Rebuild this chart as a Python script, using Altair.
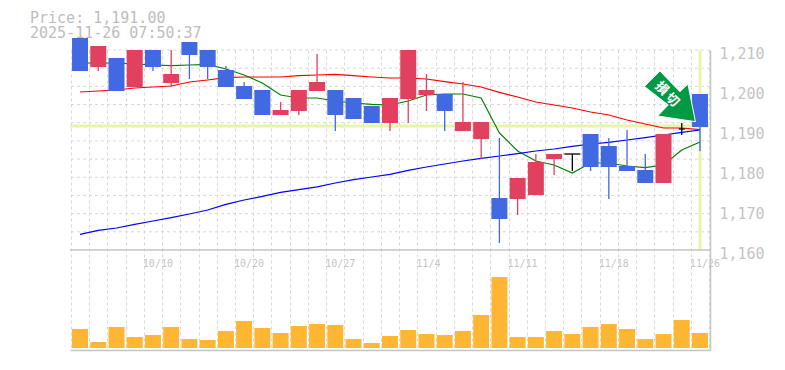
import altair as alt
import pandas as pd

# Candle values (open, close, high, low) in yen
opens = [1213, 1205.75, 1208, 1200.75, 1210, 1201.75, 1212, 1210, 1205, 1201, 1200, 1193.75, 1194.75, 1199.75, 1200, 1198, 1196, 1191.75, 1197.75, 1198.75, 1199, 1189.75, 1187.75, 1173, 1172.75, 1173.75, 1182.75, 1184, 1189, 1186, 1181, 1180, 1176.75, 1190.25, 1199]
closes = [1204.75, 1211, 1199.75, 1210, 1205.75, 1204, 1208.75, 1205.75, 1200.75, 1197.75, 1193.75, 1195, 1200, 1202, 1193.75, 1192.75, 1191.75, 1198, 1210, 1200, 1194.75, 1192, 1192, 1167.75, 1178, 1182, 1184, 1184, 1180.75, 1180.75, 1179.75, 1176.75, 1189, 1190.25, 1190.75]
highs = [1213, 1211, 1208, 1210, 1210, 1210, 1212, 1210, 1206, 1202, 1200, 1197, 1200, 1209, 1200, 1198, 1196, 1198, 1210, 1204, 1199, 1202, 1192, 1188, 1178, 1184, 1184, 1184, 1189, 1188, 1190, 1184, 1189, 1191.75, 1199]
lows = [1204.75, 1204.75, 1199.75, 1200.75, 1204.75, 1200.75, 1202.75, 1202.75, 1200.75, 1197.75, 1193.75, 1193.75, 1193.75, 1199.75, 1189.75, 1192.75, 1191.75, 1189.75, 1191.75, 1194.75, 1189.75, 1189.75, 1182.75, 1161.75, 1168.75, 1173.75, 1178.75, 1179.75, 1179.75, 1172.75, 1179.75, 1176.75, 1176.75, 1188.75, 1184.75]
volumes = [19, 6, 21, 11, 13, 21, 9, 8, 17, 27, 20, 15, 22, 24, 23, 9, 5, 12, 18, 14, 13, 17, 33, 71, 11, 11, 17, 14, 21, 24, 19, 9, 14, 28, 15]
ma_red = [1199.5, 1199.75, 1200, 1200.5, 1200.75, 1201, 1202, 1202.5, 1203.1, 1203.25, 1203.25, 1203.25, 1203.6, 1203.75, 1203.9, 1203.6, 1203.25, 1203, 1203, 1202.75, 1202.1, 1201.5, 1200.75, 1199.4, 1198.25, 1197, 1196.25, 1195.5, 1194.5, 1193.75, 1192.5, 1191.5, 1190.5, 1190.5, 1190.1]
ma_blue = [1163.9, 1164.9, 1165.5, 1166.4, 1167.25, 1168.1, 1169, 1170, 1171.4, 1172.5, 1173.4, 1174.4, 1175.1, 1175.8, 1176.75, 1177.6, 1178.25, 1178.9, 1179.9, 1180.75, 1181.5, 1182.25, 1182.9, 1183.5, 1184.1, 1184.75, 1185.25, 1185.9, 1186.5, 1186.9, 1187.5, 1188.1, 1188.75, 1189.4, 1190]
ma_green = [1206.75, 1206.75, 1206.75, 1206.5, 1206.25, 1206.1, 1206.25, 1206.4, 1205.25, 1203.75, 1201.75, 1198.75, 1198, 1198, 1197.25, 1196.75, 1196.4, 1196.25, 1197.25, 1198.75, 1199, 1199, 1198, 1189.25, 1184.75, 1182.25, 1181.25, 1179.25, 1181.75, 1181.75, 1181, 1180.6, 1181.25, 1185, 1187]
date_slots = [3.5, 8.5, 13.5, 18.5, 23.5, 28.5, 33.5]
date_labels = ["10/10", "10/20", "10/27", "11/4", "11/11", "11/18", "11/26"]
price_ticks = [1160, 1170, 1180, 1190, 1200, 1210]
grid_prices = [1164.55, 1169.09, 1173.64, 1178.18, 1182.73, 1187.27, 1191.82, 1196.36, 1200.91, 1205.45, 1210]
grid_slots = [i - 0.5 for i in range(36)]
current_price = 1191

RED, BLUE, BLACK = "#E2405F", "#4169E1", "#000000"
GREY = "#C4C4C4"
GRID = "#D8D8D8"
LIME = "#E6F5A9"
ORANGE = "#FFB733"
ARROW = "#009944"
MONO = "DejaVu Sans Mono"

n = len(opens)
df = pd.DataFrame({"i": range(n), "o": opens, "c": closes, "h": highs, "l": lows, "v": volumes,
                   "r": ma_red, "b": ma_blue, "g": ma_green})
df["top"] = df[["o", "c"]].max(axis=1)
df["bot"] = df[["o", "c"]].min(axis=1)
df["dir"] = ["up" if c > o else "down" if c < o else "flat" for o, c in zip(opens, closes)]

x_scale = alt.Scale(domain=[-0.55, 34.55], nice=False, zero=False, padding=0)
price_scale = alt.Scale(domain=[1135, 1210], nice=False, zero=False)
vol_scale = alt.Scale(domain=[-2, 298], nice=False, zero=False)
color = alt.Color("dir:N", legend=None,
                  scale=alt.Scale(domain=["up", "down", "flat"], range=[RED, BLUE, BLACK]))
x_axis = alt.Axis(values=grid_slots, grid=True, gridColor=GRID, gridDash=[3, 3], gridWidth=1,
                  labels=False, ticks=False, domain=True, domainColor=GREY, domainWidth=1.5, title=None)


def X(field):
    return alt.X(field, scale=x_scale, axis=x_axis, title=None)


def Y(field):
    return alt.Y(field, scale=price_scale, axis=None)


volume = alt.Chart(df).mark_bar(size=16, color=ORANGE, orient="vertical").encode(
    x=X("i:Q"),
    y=alt.Y("v:Q", scale=vol_scale, axis=None, stack=None),
)

h_grid = alt.Chart(pd.DataFrame({"p": grid_prices})).mark_rule(
    color=GRID, strokeDash=[3, 3], strokeWidth=1
).encode(
    y=alt.Y("p:Q", scale=price_scale, title=None,
            axis=alt.Axis(orient="right", values=price_ticks, grid=False, ticks=False,
                          labelExpr="slice(toString(datum.value),0,1)+','+slice(toString(datum.value),1)",
                          domain=True, domainColor=GREY, domainWidth=1.5, labelColor=GREY,
                          labelFont=MONO, labelFontSize=15, labelPadding=9, labelOffset=3,
                          labelOverlap=False, labelBound=False, labelFlush=False))
)

panel_line = alt.Chart(pd.DataFrame({"p": [1160]})).mark_rule(color=GREY, strokeWidth=1.5).encode(y=Y("p:Q"))

date_text = alt.Chart(pd.DataFrame({"x": date_slots, "t": date_labels, "p": [1156.5] * 7})).mark_text(
    align="left", baseline="middle", font=MONO, fontSize=10, color=GREY, dx=-1
).encode(x=X("x:Q"), y=Y("p:Q"), text="t:N")

now_h = alt.Chart(pd.DataFrame({"p": [current_price]})).mark_rule(color=LIME, strokeWidth=3).encode(y=Y("p:Q"))
now_v = alt.Chart(pd.DataFrame({"x": [34], "p": [1210], "p2": [1160.25]})).mark_rule(color=LIME, strokeWidth=3).encode(
    x=X("x:Q"), y=Y("p:Q"), y2="p2:Q")

base = alt.Chart(df)
line_red = base.mark_line(color="#FF0000", strokeWidth=1.2).encode(x=X("i:Q"), y=Y("r:Q"))
line_green = base.mark_line(color="#008000", strokeWidth=1.2).encode(x=X("i:Q"), y=Y("g:Q"))
line_blue = base.mark_line(color="#0000FF", strokeWidth=1.2).encode(x=X("i:Q"), y=Y("b:Q"))

wicks = base.mark_rule(strokeWidth=1.3).encode(x=X("i:Q"), y=Y("h:Q"), y2="l:Q", color=color)
bodies = base.transform_filter("datum.dir != 'flat'").mark_bar(size=16, orient="vertical").encode(
    x=X("i:Q"), y=Y("top:Q"), y2="bot:Q", color=color)
doji_wide = base.transform_filter("datum.i == 27").transform_calculate(
    a="datum.i - 0.44", b="datum.i + 0.44"
).mark_rule(color=BLACK, strokeWidth=1.3).encode(x=X("a:Q"), x2="b:Q", y=Y("c:Q"))
doji_short = base.transform_filter("datum.i == 33").transform_calculate(
    a="datum.i - 0.17", b="datum.i + 0.17"
).mark_rule(color=BLACK, strokeWidth=1.3).encode(x=X("a:Q"), x2="b:Q", y=Y("c:Q"))

ARROW_PATH = "M0,0 L-7.5,-37.7 L-15.5,-30 L-35.5,-50.7 L-51,-35.2 L-27.2,-16.7 L-37.8,-5.7 Z"
arrow = alt.Chart(pd.DataFrame({"x": [33.75], "p": [1192.08]})).mark_point(
    shape=ARROW_PATH, size=4, filled=True, fill=ARROW, stroke="#FFFFFF", strokeWidth=1, opacity=1
).encode(x=X("x:Q"), y=Y("p:Q"))
arrow_text = alt.Chart(pd.DataFrame({"x": [31.9, 32.48], "p": [1200.4, 1197.5], "t": ["損", "切"]})).mark_text(
    font="Noto Sans CJK JP", fontSize=13, fontWeight="bold", color="#FFFFFF", angle=45,
    align="center", baseline="middle"
).encode(x=X("x:Q"), y=Y("p:Q"), text="t:N")

chart = alt.layer(
    volume, h_grid, panel_line, date_text, now_h, now_v,
    line_red, line_green, line_blue,
    wicks, bodies, doji_wide, doji_short, arrow, arrow_text
).resolve_scale(y="independent", color="shared", x="shared").properties(
    width=640, height=300,
    padding={"left": 62, "top": 42, "right": 60, "bottom": 4},
    autosize=alt.AutoSizeParams(type="none"),
    title=alt.TitleParams(
        text=["Price: 1,191.00", "2025-11-26 07:50:37"], anchor="start", frame="group", dx=-40, dy=14,
        font=MONO, fontSize=15, fontWeight="normal", color="#BDBDBD", lineHeight=15, offset=10,
    ),
).configure_view(stroke=None)

chart.save("out.html", embed_options={"renderer": "svg", "actions": False})
